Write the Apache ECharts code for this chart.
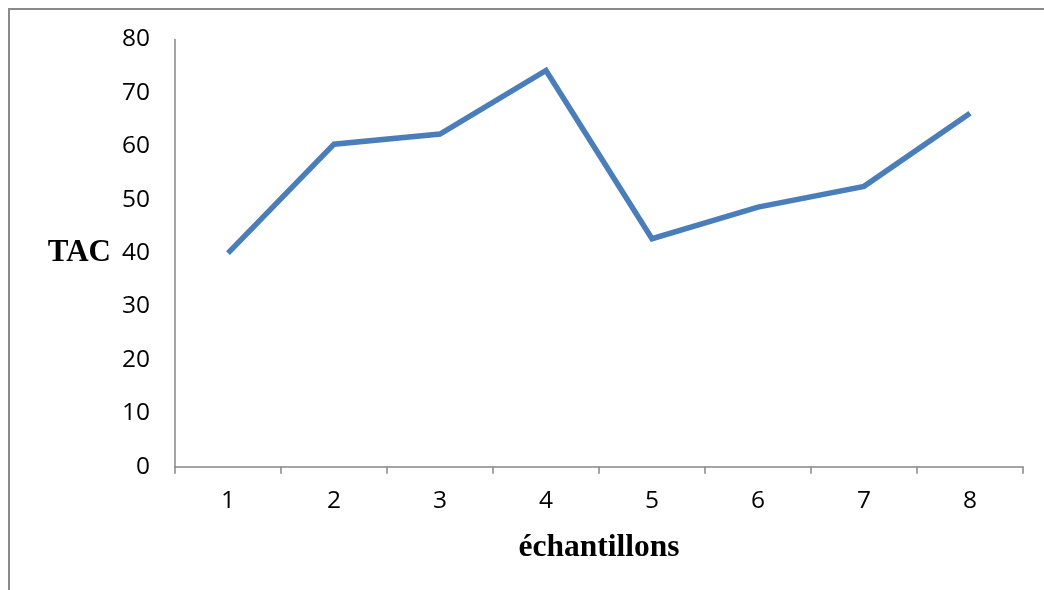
<!DOCTYPE html>
<html>
<head>
<meta charset="utf-8">
<script src="https://cdn.jsdelivr.net/npm/echarts@6/dist/echarts.min.js"></script>
<style>
  html, body { margin: 0; padding: 0; background: #ffffff; }
  #chart { width: 1044px; height: 590px; }
</style>
</head>
<body>
<div id="chart"></div>
<script>
// Sample numbers along the x axis
const categories = ['1', '2', '3', '4', '5', '6', '7', '8'];
// TAC value measured for each sample
const tacValues = [40, 60.4, 62.3, 74.2, 42.7, 48.6, 52.5, 66.2];
// Value axis range
const yMin = 0;
const yMax = 80;
const yStep = 10;

const chart = echarts.init(document.getElementById('chart'), null, { renderer: 'canvas' });

const axisGray = '#878787';
const labelFont = '"Open Sans", "Noto Sans", sans-serif';
const titleFont = '"Liberation Serif", "Times New Roman", serif';

chart.setOption({
  animation: false,
  backgroundColor: '#ffffff',
  graphic: [
    {
      // frame around the chart area (top and left edges visible)
      type: 'rect',
      shape: { x: 9, y: 9, width: 1060, height: 600 },
      style: { fill: 'none', stroke: '#8a8a8a', lineWidth: 2 },
      silent: true
    }
  ],
  grid: { left: 175, right: 21, top: 39.5, bottom: 123.3, containLabel: false },
  xAxis: {
    type: 'category',
    data: categories,
    boundaryGap: true,
    name: 'échantillons',
    nameLocation: 'middle',
    nameGap: 65,
    nameTextStyle: { fontFamily: titleFont, fontWeight: 'bold', fontSize: 31.5, color: '#000000' },
    axisLine: { show: true, lineStyle: { color: axisGray, width: 1.5 } },
    axisTick: { show: true, alignWithLabel: false, length: 7, lineStyle: { color: axisGray, width: 1.5 } },
    axisLabel: { fontFamily: labelFont, fontSize: 24.5, color: '#000000', margin: 22 },
    splitLine: { show: false }
  },
  yAxis: {
    type: 'value',
    min: yMin,
    max: yMax,
    interval: yStep,
    name: 'TAC',
    nameLocation: 'middle',
    nameRotate: 0,
    nameGap: 64,
    nameTextStyle: { fontFamily: titleFont, fontWeight: 'bold', fontSize: 31, color: '#000000', align: 'right' },
    axisLine: { show: true, lineStyle: { color: axisGray, width: 1.5 } },
    axisTick: { show: false },
    axisLabel: { fontFamily: labelFont, fontSize: 24.5, color: '#000000', margin: 25 },
    splitLine: { show: false }
  },
  series: [
    {
      type: 'line',
      data: tacValues,
      symbol: 'none',
      lineStyle: { color: '#4a7ebb', width: 5.5, join: 'miter' },
      itemStyle: { color: '#4a7ebb' }
    }
  ]
});
</script>
</body>
</html>
